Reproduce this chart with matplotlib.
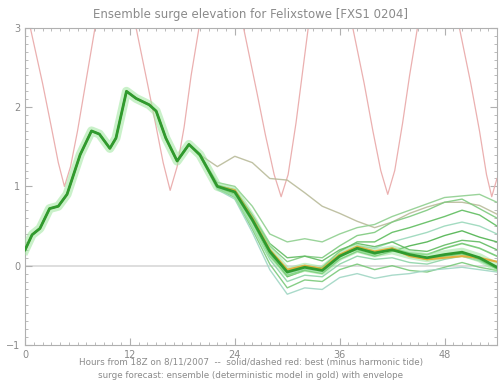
import numpy as np
import matplotlib
matplotlib.use("Agg")
import matplotlib.pyplot as plt
from matplotlib.ticker import MultipleLocator

# shared trunk of the ensemble (hours, surge in m)
trunk_hours = [0, 0.8, 1.7, 2.8, 3.8, 4.8, 6.3, 7.6, 8.5, 9.7, 10.4, 11.6, 12.7,
               14.2, 15.0, 16.1, 17.4, 18.75]
trunk_vals = [0.2, 0.39, 0.47, 0.72, 0.75, 0.9, 1.4, 1.70, 1.66, 1.48, 1.61, 2.2,
              2.11, 2.03, 1.95, 1.61, 1.32, 1.53]

# members after they split
tail_hours = [20, 22, 24, 26, 28, 30, 32, 34, 36, 38, 40, 42, 44, 46, 48, 50, 52, 54]
core  = [1.40, 1.00, 0.93, 0.58, 0.18, -0.08, -0.02, -0.06, 0.12, 0.22, 0.16, 0.20, 0.14, 0.10, 0.14, 0.17, 0.10, -0.02]
m_out = [1.40, 1.25, 1.38, 1.30, 1.10, 1.08, 0.92, 0.75, 0.66, 0.56, 0.48, 0.55, 0.66, 0.74, 0.80, 0.80, 0.76, 0.65]
m2    = [1.40, 1.05, 1.00, 0.75, 0.40, 0.30, 0.34, 0.30, 0.40, 0.48, 0.52, 0.62, 0.70, 0.78, 0.86, 0.88, 0.90, 0.80]
m3    = [1.40, 1.02, 0.95, 0.62, 0.25, 0.05, 0.12, 0.10, 0.25, 0.38, 0.42, 0.55, 0.62, 0.70, 0.80, 0.84, 0.72, 0.60]
m4    = [1.38, 0.98, 0.90, 0.55, 0.12, -0.12, -0.05, -0.02, 0.18, 0.30, 0.30, 0.42, 0.48, 0.55, 0.62, 0.70, 0.64, 0.50]
m5    = [1.40, 1.00, 0.92, 0.56, 0.16, -0.10, -0.04, -0.08, 0.10, 0.25, 0.22, 0.30, 0.36, 0.42, 0.50, 0.55, 0.50, 0.40]
m6    = [1.40, 0.99, 0.92, 0.58, 0.15, -0.14, -0.06, -0.10, 0.08, 0.18, 0.12, 0.18, 0.25, 0.30, 0.38, 0.44, 0.36, 0.30]
m7    = [1.40, 1.00, 0.94, 0.60, 0.20, -0.06, 0.00, -0.04, 0.14, 0.20, 0.14, 0.22, 0.16, 0.14, 0.22, 0.28, 0.22, 0.12]
m8    = [1.40, 0.98, 0.88, 0.50, 0.08, -0.20, -0.12, -0.14, 0.02, 0.12, 0.08, 0.10, 0.04, 0.02, 0.08, 0.12, 0.06, -0.04]
m9    = [1.40, 0.97, 0.86, 0.46, 0.02, -0.28, -0.18, -0.20, -0.05, 0.02, -0.05, 0.00, -0.06, -0.08, -0.02, 0.04, -0.02, -0.06]
m10   = [1.40, 0.96, 0.84, 0.42, -0.05, -0.36, -0.28, -0.30, -0.15, -0.10, -0.16, -0.12, -0.10, -0.06, -0.04, -0.02, -0.05, -0.08]
m11   = [1.40, 1.01, 0.96, 0.64, 0.28, 0.10, 0.12, 0.06, 0.20, 0.28, 0.24, 0.30, 0.20, 0.18, 0.26, 0.32, 0.30, 0.20]
m12   = [1.40, 1.00, 0.93, 0.57, 0.17, -0.08, -0.01, -0.05, 0.13, 0.23, 0.15, 0.21, 0.13, 0.08, 0.12, 0.15, 0.08, -0.04]
determ = [1.40, 1.00, 0.95, 0.60, 0.20, -0.05, 0.00, -0.04, 0.14, 0.24, 0.18, 0.22, 0.12, 0.08, 0.10, 0.12, 0.10, 0.05]

# tide (clipped by the axes top)
tide_hours = [0, 0.6, 2.0, 3.0, 3.8, 4.5, 5.2, 6.0, 7.0, 8.0, 10.3, 12.7, 14.0, 15.0, 15.8,
              16.6, 17.4, 18.2, 19.0, 19.9, 22.4, 25.0, 26.5, 27.5, 28.5, 29.3, 30.1, 31.0,
              31.7, 32.4, 35.0, 37.5, 38.8, 39.8, 40.7, 41.5, 42.3, 43.2, 44.0, 44.9, 47.3,
              49.7, 51.0, 52.0, 52.8, 53.4, 54.0]
tide_vals = [3.3, 3.0, 2.3, 1.75, 1.3, 1.0, 1.25, 1.7, 2.35, 3.0, 4.2, 3.0, 2.3, 1.75, 1.3,
             0.95, 1.25, 1.75, 2.4, 3.0, 4.2, 3.0, 2.2, 1.65, 1.15, 0.87, 1.15, 1.8,
             2.4, 3.0, 4.2, 3.0, 2.3, 1.7, 1.2, 0.9, 1.2, 1.8, 2.4, 3.0, 4.2,
             3.0, 2.3, 1.7, 1.15, 0.87, 1.1]

members = [(m_out, '#b9bb9a', 1.0), (m2, '#8fcf8f', 1.0), (m3, '#7fca7f', 1.0),
           (m4, '#5fbd5f', 1.0), (m5, '#9ad8bb', 1.0), (m6, '#4fb34f', 1.0),
           (m7, '#6fc76f', 1.2), (m8, '#8ed4a8', 1.0), (m9, '#7ac97a', 1.0),
           (m10, '#a0d6c4', 1.0), (m11, '#62bb62', 1.0), (m12, '#3aa83a', 1.2)]

fig = plt.figure(figsize=(5.02, 3.82), dpi=100)
ax = fig.add_axes([0.05, 0.097, 0.94, 0.83])

gray = '#8a8a8a'
ax.axhline(0, color='#d8d8d8', lw=1.2, zorder=1)
ax.plot(tide_hours, tide_vals, color='#ebb0b0', lw=0.9, zorder=2)

th = np.array(trunk_hours + tail_hours)
for vals, col, lw in members:
    ax.plot(th, trunk_vals + vals, color=col, lw=lw, alpha=0.9, zorder=3)

# glow + core
ax.plot(th, trunk_vals + core, color='#9ee69e', lw=6.5, alpha=0.55, zorder=4)
ax.plot(th, trunk_vals + determ, color='#e0b040', lw=1.5, zorder=5)
ax.plot(th, trunk_vals + core, color='#2f9a2f', lw=2.0, zorder=6)

ax.set_xlim(0, 54)
ax.set_ylim(-1, 3)
ax.set_xticks([0, 12, 24, 36, 48])
ax.set_yticks([-1, 0, 1, 2, 3])
ax.xaxis.set_minor_locator(MultipleLocator(1))
ax.yaxis.set_minor_locator(MultipleLocator(0.1))
ax.tick_params(which='both', direction='in', top=True, right=True,
               colors='#b0b0b0', labelcolor=gray, labelsize=7)
ax.tick_params(which='major', length=5)
ax.tick_params(which='minor', length=2.5)
for s in ax.spines.values():
    s.set_color('#b0b0b0')
    s.set_linewidth(0.8)

fig.text(0.5, 0.962, 'Ensemble surge elevation for Felixstowe [FXS1 0204]',
         ha='center', va='center', fontsize=8.5, color=gray)
fig.text(0.5, 0.050, 'Hours from 18Z on 8/11/2007  --  solid/dashed red: best (minus harmonic tide)',
         ha='center', va='center', fontsize=6.3, color=gray)
fig.text(0.5, 0.017, 'surge forecast: ensemble (deterministic model in gold) with envelope',
         ha='center', va='center', fontsize=6.3, color=gray)

fig.savefig('out.png', dpi=100)
